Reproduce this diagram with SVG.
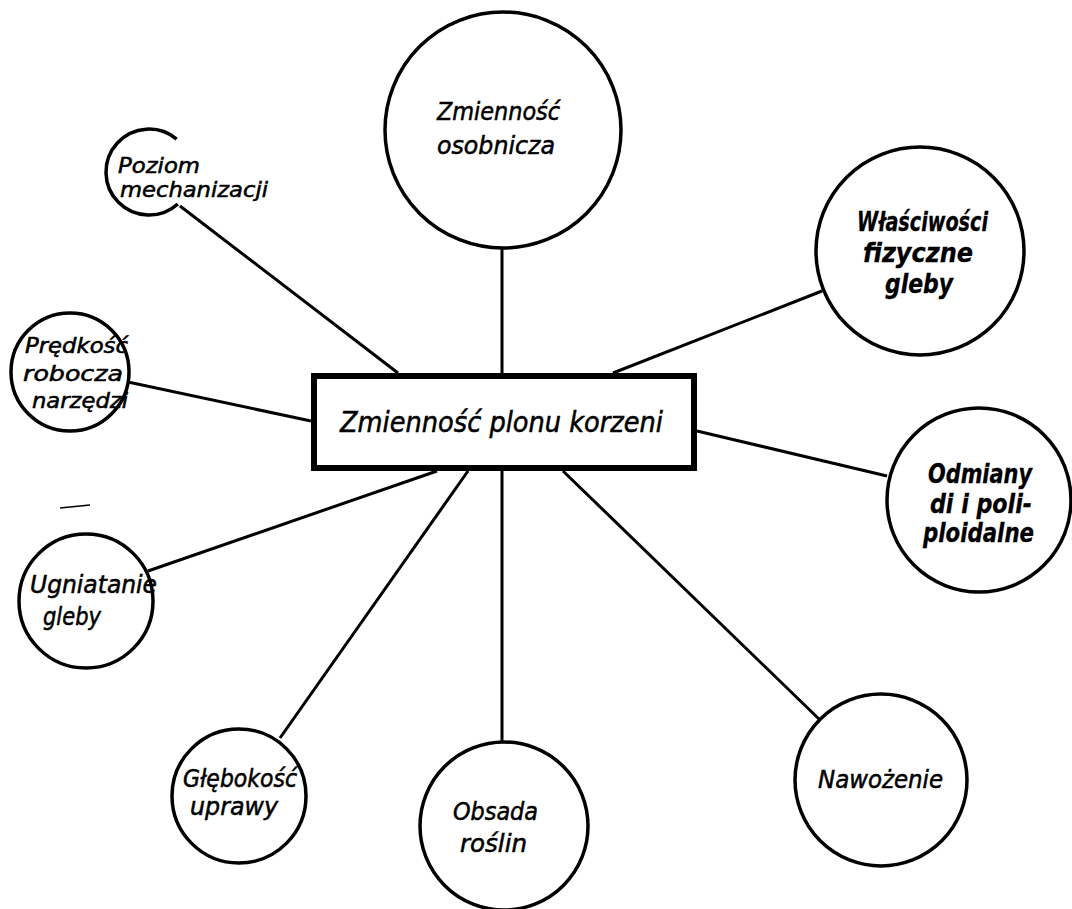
<svg xmlns="http://www.w3.org/2000/svg" width="1072" height="909" viewBox="0 0 1072 909">
<style>
.c{fill:#fff;stroke:#000;stroke-width:3.5}
.t{font-family:"DejaVu Sans Condensed","DejaVu Sans",sans-serif;font-stretch:condensed;font-style:oblique;font-size:25px;fill:#000;stroke:#000;stroke-width:0.5}
.b{font-weight:bold;font-size:27px;stroke-width:0.3}
.s{font-size:22px}
.l{stroke:#000;stroke-width:3;fill:none}
</style>
<rect width="1072" height="909" fill="#fff"/>
<g id="connectors">
<line class="l" x1="502" y1="248" x2="502" y2="373"/>
<line class="l" x1="180" y1="206" x2="398" y2="373"/>
<line class="l" x1="128" y1="382" x2="311" y2="421"/>
<line class="l" x1="822" y1="291" x2="613" y2="373"/>
<line class="l" x1="887" y1="476" x2="697" y2="431"/>
<line class="l" x1="819" y1="719" x2="563" y2="471"/>
<line class="l" x1="502" y1="471" x2="502" y2="743"/>
<line class="l" x1="468" y1="471" x2="280" y2="738"/>
<line class="l" x1="437" y1="471" x2="148" y2="571"/>
</g>
<g id="center">
<rect x="314" y="376" width="380" height="92" fill="#fff" stroke="#000" stroke-width="6"/>
<text class="t" x="340" y="432" style="font-size:28px" textLength="323" lengthAdjust="spacingAndGlyphs">Zmienność plonu korzeni</text>
</g>
<g id="n-osobnicza">
<circle class="c" cx="503" cy="130" r="118"/>
<text class="t" x="437" y="120" textLength="123" lengthAdjust="spacingAndGlyphs">Zmienność</text>
<text class="t" x="437" y="154" textLength="118" lengthAdjust="spacingAndGlyphs">osobnicza</text>
</g>
<g id="n-wlasciwosci">
<circle class="c" cx="920" cy="251" r="104"/>
<text class="t b" x="857" y="231" textLength="131" lengthAdjust="spacingAndGlyphs">Właściwości</text>
<text class="t b" x="863" y="262" textLength="110" lengthAdjust="spacingAndGlyphs">fizyczne</text>
<text class="t b" x="885" y="293" textLength="68" lengthAdjust="spacingAndGlyphs">gleby</text>
</g>
<g id="n-odmiany">
<circle class="c" cx="979" cy="500" r="92"/>
<text class="t b" x="928" y="483" textLength="104" lengthAdjust="spacingAndGlyphs">Odmiany</text>
<text class="t b" x="930" y="513" textLength="102" lengthAdjust="spacingAndGlyphs">di i poli-</text>
<text class="t b" x="923" y="542" textLength="111" lengthAdjust="spacingAndGlyphs">ploidalne</text>
</g>
<g id="n-nawozenie">
<circle class="c" cx="881" cy="780" r="86"/>
<text class="t" x="818" y="788" textLength="125" lengthAdjust="spacingAndGlyphs">Nawożenie</text>
</g>
<g id="n-obsada">
<circle class="c" cx="504" cy="826" r="84"/>
<text class="t" x="453" y="820" textLength="85" lengthAdjust="spacingAndGlyphs">Obsada</text>
<text class="t" x="460" y="852" textLength="67" lengthAdjust="spacingAndGlyphs">roślin</text>
</g>
<g id="n-glebokosc">
<circle class="c" cx="239" cy="796" r="67"/>
<text class="t" x="183" y="787" textLength="114" lengthAdjust="spacingAndGlyphs">Głębokość</text>
<text class="t" x="190" y="815" textLength="88" lengthAdjust="spacingAndGlyphs">uprawy</text>
</g>
<g id="n-ugniatanie">
<circle class="c" cx="86" cy="601" r="67"/>
<text class="t" x="30" y="593" textLength="127" lengthAdjust="spacingAndGlyphs">Ugniatanie</text>
<text class="t" x="43" y="625" textLength="58" lengthAdjust="spacingAndGlyphs">gleby</text>
</g>
<g id="n-predkosc">
<circle class="c" cx="70" cy="372" r="59"/>
<text class="t s" x="25" y="353" textLength="103" lengthAdjust="spacingAndGlyphs">Prędkość</text>
<text class="t s" x="23" y="381" textLength="100" lengthAdjust="spacingAndGlyphs">robocza</text>
<text class="t s" x="32" y="408" textLength="96" lengthAdjust="spacingAndGlyphs">narzędzi</text>
</g>
<g id="n-poziom">
<path class="c" style="fill:none" d="M176.6,139.1 A43,43 0 1,0 177.8,204"/>
<text class="t s" x="118" y="173" textLength="82" lengthAdjust="spacingAndGlyphs">Poziom</text>
<text class="t s" x="120" y="197" textLength="148" lengthAdjust="spacingAndGlyphs">mechanizacji</text>
</g>
<line x1="60" y1="508" x2="90" y2="505" stroke="#000" stroke-width="1.5"/>
</svg>
